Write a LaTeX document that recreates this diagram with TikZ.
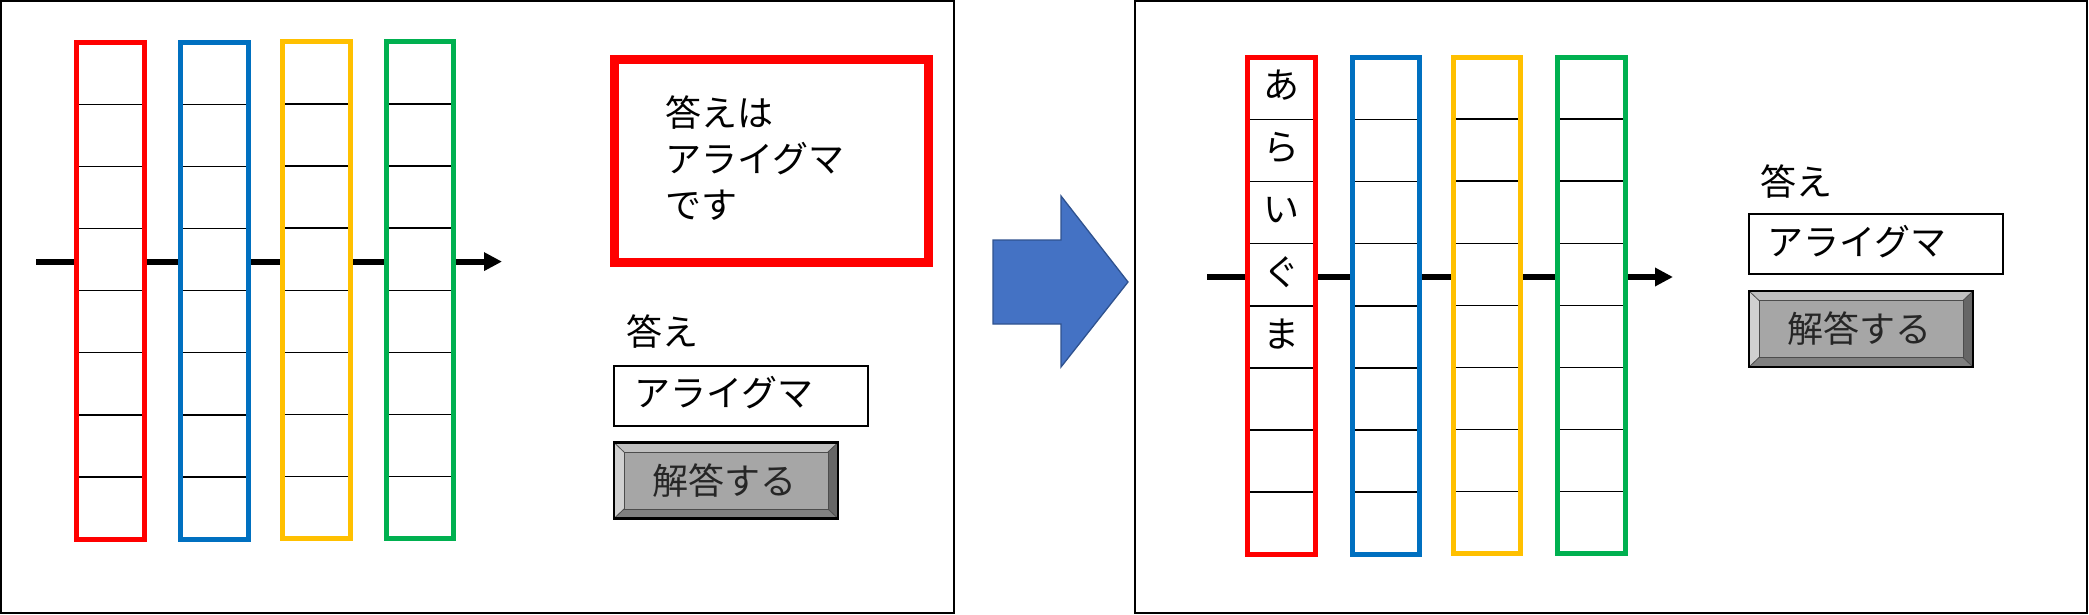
\documentclass[tikz,border=0pt]{standalone}
\usepackage{fontspec}
\newfontfamily\jp{Noto Sans CJK JP}
\usetikzlibrary{arrows.meta,calc}
\definecolor{cred}{HTML}{FF0000}
\definecolor{cblue}{HTML}{0070C0}
\definecolor{cyellow}{HTML}{FFC000}
\definecolor{cgreen}{HTML}{00B050}
\definecolor{bigfill}{HTML}{4472C4}
\definecolor{bigdraw}{HTML}{2F528F}
\definecolor{bface}{HTML}{A6A6A6}
\definecolor{btop}{HTML}{BFBFBF}
\definecolor{bleft}{HTML}{D0D0D0}
\definecolor{bright}{HTML}{666666}
\definecolor{bbot}{HTML}{808080}
\tikzset{
  panel/.style={draw=black, line width=2pt, inner sep=0pt, outer sep=0pt},
  colbox/.style={draw=#1, line width=5pt, fill=white, inner sep=0pt, outer sep=0pt},
  cellline/.style={draw=black, line width=1.4pt},
  flowline/.style={draw=black, line width=6pt, -{Triangle[length=18pt,width=17.6pt]}},
  jptext/.style={font=\jp\fontsize{36}{46}\selectfont, inner sep=0pt, text=black},
  txtbox/.style={draw=black, line width=2pt, fill=white, inner sep=0pt, outer sep=0pt, minimum width=254pt, minimum height=60pt},
  btnface/.style={fill=bface, draw=black!70, line width=0.8pt, minimum width=204pt, minimum height=57pt, inner sep=0pt, font=\jp\fontsize{36}{46}\selectfont, text=black!85},
  bevline/.style={draw=black!70, line width=0.8pt}
}
\newcommand\jpbtn[3]{%
\begin{scope}[shift={(#2,#3)}]
\fill[btop] (0,0) -- (224,0) -- (214,9.5) -- (10,9.5) -- cycle;
\fill[bleft] (0,0) -- (10,9.5) -- (10,66.5) -- (0,76) -- cycle;
\fill[bright] (224,0) -- (224,76) -- (214,66.5) -- (214,9.5) -- cycle;
\fill[bbot] (0,76) -- (224,76) -- (214,66.5) -- (10,66.5) -- cycle;
\draw[bevline] (0,0) -- (10,9.5) (224,0) -- (214,9.5) (0,76) -- (10,66.5) (224,76) -- (214,66.5);
\node[btnface] (#1) at (112,38) {\hspace*{-4pt}解答する};
\draw[black, line width=2.2pt] (0,0) rectangle (224,76);
\end{scope}}
\newcommand\colwithcells[5]{% name, color, x, y, height
\node[colbox=#2, minimum width=67.5pt, minimum height=#5pt] (#1) at (#3,#4) {};
\foreach \k in {1,...,7}{
  \draw[cellline] ($(#1.north west)!\k/8!(#1.south west)+(2.5,0)$) -- ($(#1.north east)!\k/8!(#1.south east)-(2.5,0)$);
}}
\begin{document}
\begin{tikzpicture}[x=1pt,y=-1pt]
\useasboundingbox (0,0) rectangle (2089,615);
% panels
\node[panel, minimum width=953pt, minimum height=612pt] (leftpanel) at (477.5,307) {};
\node[panel, minimum width=952pt, minimum height=612pt] (rightpanel) at (1611,307) {};
% ---- left panel ----
\coordinate (la) at (36,261.6);
\coordinate (lb) at (502,261.6);
\draw[flowline] (la) -- (lb);
\colwithcells{lc1}{cred}{110.5}{290.6}{497}
\colwithcells{lc2}{cblue}{214.5}{290.6}{497}
\colwithcells{lc3}{cyellow}{316.5}{290.3}{497}
\colwithcells{lc4}{cgreen}{420}{290.3}{497}
\node[draw=cred, line width=9pt, minimum width=314pt, minimum height=202pt, inner sep=0pt] (answerbox) at (771,161) {};
\node[jptext, anchor=west, align=left] (answertext) at (665,157.6) {答えは\\アライグマ\\です};
\node[jptext, anchor=west] (llabel) at (626,331.5) {答え};
\node[txtbox] (lbox) at (741,396) {};
\node[jptext, anchor=west] (lboxtext) at (634,392.5) {アライグマ};
\jpbtn{lbtn}{614}{442.5}
% ---- big arrow ----
\draw[fill=bigfill, draw=bigdraw, line width=1.3pt] (993,240) -- (1061,240) -- (1061,196) -- (1128,282) -- (1061,367) -- (1061,324) -- (993,324) -- cycle;
% ---- right panel ----
\coordinate (ra) at (1207,277);
\coordinate (rb) at (1673,277);
\draw[flowline] (ra) -- (rb);
\colwithcells{rc1}{cred}{1281.5}{305.8}{496.5}
\colwithcells{rc2}{cblue}{1386}{305.8}{496.5}
\colwithcells{rc3}{cyellow}{1487}{305.3}{496.5}
\colwithcells{rc4}{cgreen}{1591.5}{305.3}{496.5}
\foreach \ch [count=\k] in {あ,ら,い,ぐ,ま}{
  \node[jptext] (h\k) at ($(rc1.north)!{(\k-0.5)/8}!(rc1.south)+(0,-3)$) {\ch};
}
\node[jptext, anchor=west] (rlabel) at (1760,182) {答え};
\node[txtbox] (rbox) at (1875.5,244) {};
\node[jptext, anchor=west] (rboxtext) at (1767,242) {アライグマ};
\jpbtn{rbtn}{1749}{291}
\end{tikzpicture}
\end{document}
